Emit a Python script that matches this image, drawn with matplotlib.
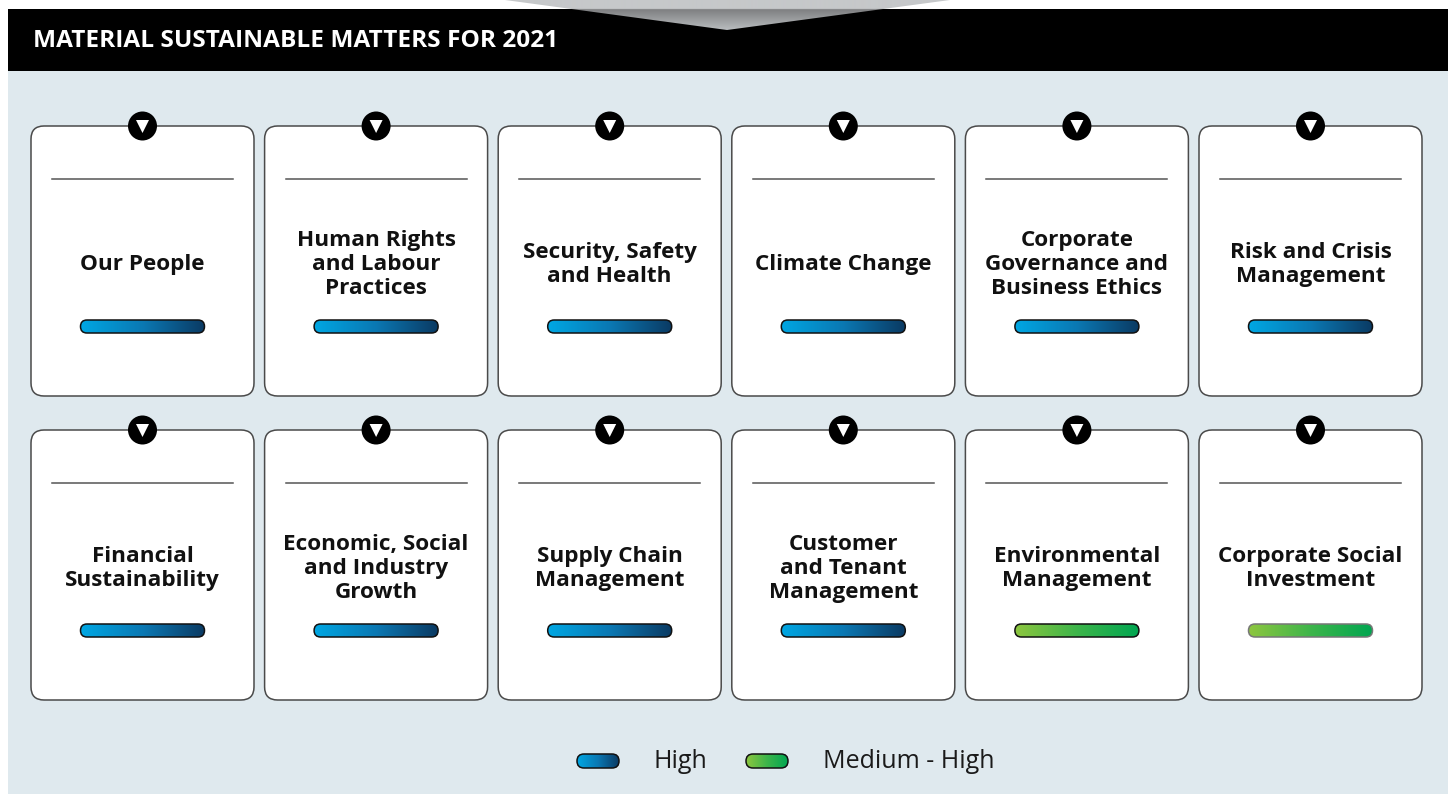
import numpy as np
import matplotlib.pyplot as plt
from matplotlib.patches import FancyBboxPatch, Circle, Polygon, Rectangle
from matplotlib.colors import LinearSegmentedColormap

categories = [
    "Our People", "Human Rights\nand Labour\nPractices", "Security, Safety\nand Health",
    "Climate Change", "Corporate\nGovernance and\nBusiness Ethics", "Risk and Crisis\nManagement",
    "Financial\nSustainability", "Economic, Social\nand Industry\nGrowth", "Supply Chain\nManagement",
    "Customer\nand Tenant\nManagement", "Environmental\nManagement", "Corporate Social\nInvestment",
]
levels = ["High"] * 10 + ["Medium - High"] * 2
legend_labels = ["High", "Medium - High"]
title = "MATERIAL SUSTAINABLE MATTERS FOR 2021"

cmaps = {
    "High": LinearSegmentedColormap.from_list("high", ["#00a7e3", "#0a78b3", "#0b3a63"]),
    "Medium - High": LinearSegmentedColormap.from_list("med", ["#8dc63f", "#3db54a", "#00a651"]),
}
grad = np.linspace(0, 1, 256).reshape(1, -1)

fig = plt.figure(figsize=(14.48, 7.94), dpi=100)
ax = fig.add_axes([0, 0, 1, 1])
ax.axis("off")


def pill(x, y, w, h, level, edge="#111111"):
    p = FancyBboxPatch((x, y), w, h, boxstyle=f"round,pad=0,rounding_size={h/2}",
                       fc="none", ec=edge, lw=1.1, zorder=5)
    ax.add_patch(p)
    im = ax.imshow(grad, extent=[x, x + w, y + h, y], aspect="auto",
                   cmap=cmaps[level], zorder=4)
    im.set_clip_path(p)


# background + header
ax.add_patch(Rectangle((8, 71), 1440, 723, fc="#dfe9ee", ec="none", zorder=0))
ax.add_patch(Rectangle((8, 9), 1440, 62, fc="black", ec="none", zorder=1))
tri = Polygon([(505, 0), (950, 0), (727, 30)], closed=True, fc="none", ec="none", zorder=2)
ax.add_patch(tri)
vgrad = np.linspace(0, 1, 120).reshape(-1, 1)
gcmap = LinearSegmentedColormap.from_list(
    "g", [(0, "#c6c8ca"), (0.29, "#c6c8ca"), (0.31, "#7e7f81"), (1, "#b9bcbf")])
gim = ax.imshow(vgrad, extent=[505, 950, 30, 0], aspect="auto", zorder=2, cmap=gcmap)
gim.set_clip_path(tri)
ax.text(33, 41, title, color="white", fontsize=17.6, fontweight="bold",
        family="Open Sans", va="center", ha="left", zorder=3)

# cards
card_w, card_h = 223, 270
for i, (name, lvl) in enumerate(zip(categories, levels)):
    row, col = divmod(i, 6)
    x0 = 31 + col * 233.6
    y0 = 126 + row * 304
    cx = x0 + card_w / 2
    ax.add_patch(FancyBboxPatch((x0, y0), card_w, card_h,
                                boxstyle="round,pad=0,rounding_size=13",
                                fc="white", ec="#4a4a4a", lw=1.1, zorder=2))
    ax.plot([x0 + 21, x0 + card_w - 21], [y0 + 53, y0 + 53], color="#555555", lw=1.1, zorder=3)
    ax.add_patch(Circle((cx, y0), 14.5, fc="black", ec="none", zorder=4))
    ax.add_patch(Polygon([(cx - 6.5, y0 - 6), (cx + 6.5, y0 - 6), (cx, y0 + 7)],
                         fc="white", ec="none", zorder=5))
    ax.text(cx, y0 + 138.5, name, ha="center", va="center", fontsize=16.2, fontweight="bold",
            family="Open Sans", linespacing=1.2, color="#111111", zorder=3)
    edge = "#777777" if i == len(categories) - 1 else "#111111"
    pill(cx - 62, y0 + 194, 124, 13, lvl, edge)

# legend
for lx, tx, lbl in zip([577, 746], [654, 823], legend_labels):
    pill(lx, 754, 42, 14, lbl)
    ax.text(tx, 762, lbl, ha="left", va="center", fontsize=18, family="Open Sans",
            color="#1a1a1a", zorder=3)

ax.set_xlim(0, 1448)
ax.set_ylim(794, 0)
fig.savefig("out.png", dpi=100, facecolor="white")
